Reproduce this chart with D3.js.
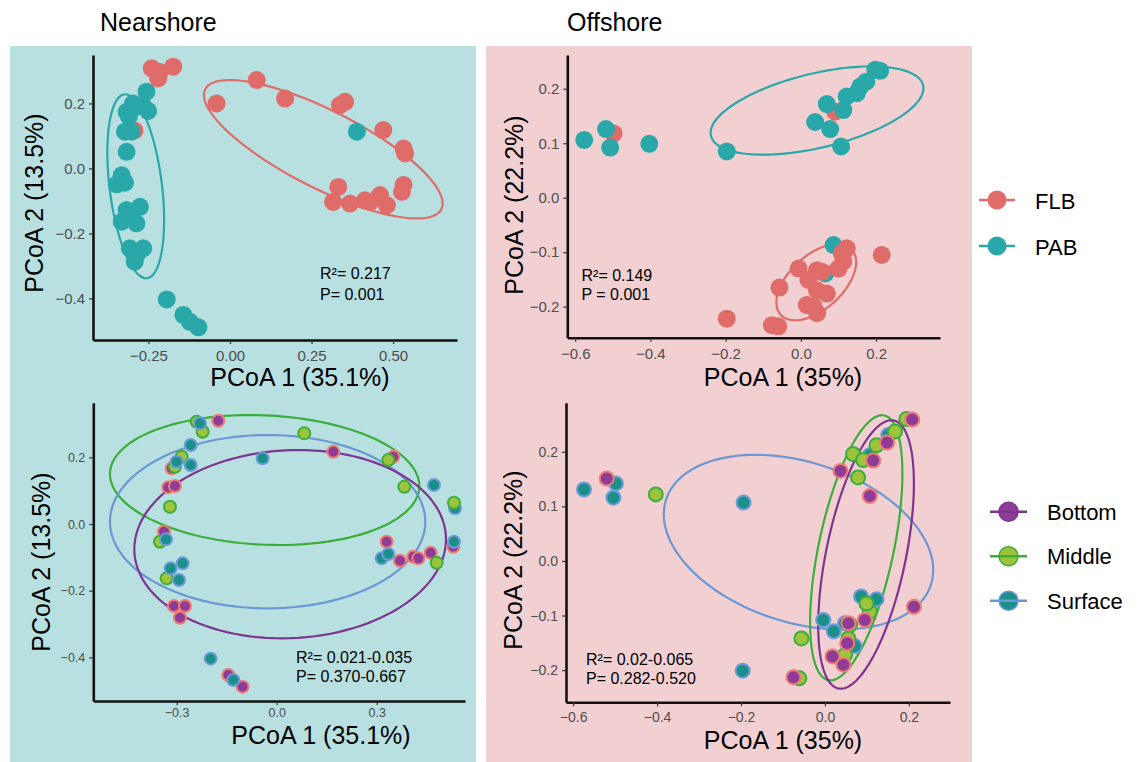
<!DOCTYPE html>
<html>
<head>
<meta charset="utf-8">
<script src="https://cdn.jsdelivr.net/npm/d3@7"></script>
<style>
  html, body { margin: 0; padding: 0; background: #ffffff; }
  svg text { font-family: "Liberation Sans", Arial, Helvetica, sans-serif; }
</style>
</head>
<body>
<svg id="chart" width="1139" height="762"></svg>
<script>
// ---------------- DATA ----------------
const regions = ["Nearshore", "Offshore"];
const fractions = ["FLB", "PAB"];
const depths = ["Bottom", "Middle", "Surface"];

// Nearshore, by fraction (top-left)
const nsFLB_x = [-0.24,-0.215,-0.174,-0.22,-0.293,-0.041,0.082,0.169,0.337,0.353,0.47,0.532,0.537,0.332,0.532,0.527,0.316,0.368,0.414,0.429,0.46,0.481];
const nsFLB_y = [0.308,0.297,0.313,0.277,0.117,0.2,0.272,0.215,0.195,0.205,0.118,0.061,0.046,-0.057,-0.051,-0.072,-0.103,-0.108,-0.098,-0.103,-0.082,-0.113];
const nsPAB_x = [-0.256,-0.297,-0.287,-0.317,-0.31,-0.251,-0.265,-0.322,-0.302,-0.317,-0.332,-0.322,-0.347,-0.317,-0.276,-0.307,-0.332,-0.287,-0.307,-0.266,-0.287,-0.292,-0.194,-0.143,-0.123,-0.097,0.389];
const nsPAB_y = [0.236,0.2,0.19,0.174,0.16,0.177,0.19,0.113,0.113,0.051,-0.021,-0.044,-0.049,-0.128,-0.118,-0.149,-0.164,-0.169,-0.246,-0.246,-0.267,-0.287,-0.403,-0.451,-0.472,-0.489,0.113];

// Offshore, by fraction (top-right)
const osPABlow_x = [0.087,0.065];
const osPABlow_y = [-0.087,-0.139];
const osFLB_x = [-0.498,0.091,0.122,0.109,0.113,0.1,0.215,-0.006,0.043,0.056,0.02,0.043,0.069,-0.057,0.016,0.034,0.043,-0.197,-0.077,-0.06];
const osFLB_y = [0.118,0.158,-0.093,-0.102,-0.117,-0.13,-0.105,-0.13,-0.133,-0.136,-0.151,-0.17,-0.176,-0.165,-0.197,-0.2,-0.212,-0.222,-0.234,-0.236];
const osPAB_x = [-0.576,-0.518,-0.507,-0.403,-0.197,0.069,0.038,0.078,0.107,0.113,0.122,0.149,0.158,0.174,0.198,0.211];
const osPAB_y = [0.106,0.126,0.092,0.099,0.085,0.172,0.139,0.126,0.094,0.161,0.186,0.192,0.204,0.213,0.235,0.233];

// Nearshore, by depth (bottom-left)
const nsBot_x = [-0.175,0.17,0.35,-0.315,-0.325,-0.305,-0.338,0.33,0.37,0.41,0.425,0.462,0.53,-0.308,-0.275,-0.29,-0.145,-0.102];
const nsBot_y = [0.31,0.217,0.202,0.167,0.11,0.114,-0.023,-0.053,-0.11,-0.098,-0.103,-0.086,-0.068,-0.246,-0.246,-0.281,-0.453,-0.488];
const nsMid_x = [-0.24,-0.222,0.083,-0.285,-0.305,0.335,0.383,-0.32,-0.35,-0.33,0.48];
const nsMid_y = [0.307,0.277,0.272,0.202,0.172,0.192,0.112,0.052,-0.053,-0.163,-0.116];
const nsSurf_x = [-0.23,-0.258,-0.3,-0.258,-0.042,0.472,0.535,0.532,-0.332,-0.318,-0.282,-0.293,0.315,0.335,-0.198,-0.13];
const nsSurf_y = [0.302,0.237,0.187,0.177,0.197,0.117,0.047,-0.053,-0.046,-0.133,-0.118,-0.168,-0.103,-0.09,-0.404,-0.468];
const nsMidTop_x = [0.532];
const nsMidTop_y = [0.064];

// Offshore, by depth (bottom-right)
const osSurf_x = [-0.574,-0.498,-0.504,-0.194,-0.196,-0.004,0.021,0.048,0.086,0.123,0.071,0.107,0.151];
const osSurf_y = [0.131,0.142,0.116,0.107,-0.201,-0.108,-0.129,-0.114,-0.065,-0.07,-0.156,0.194,0.231];
const osMid_x = [-0.403,-0.056,-0.061,0.067,0.091,0.123,0.167,0.194,0.079,0.107,0.099,0.056,0.048,0.06];
const osMid_y = [0.122,-0.142,-0.215,0.196,0.185,0.212,0.237,0.26,0.153,-0.093,-0.078,-0.142,-0.172,-0.117];
const osBot_x = [-0.52,0.037,0.107,0.115,0.148,0.208,0.212,0.056,0.095,0.053,0.018,0.044,-0.075];
const osBot_y = [0.151,0.165,0.119,0.184,0.217,0.259,-0.084,-0.114,-0.108,-0.151,-0.175,-0.19,-0.213];

// Ellipses: [centre x, centre y, half-width, half-height, y-offset at rightmost point]
const nsFLB_ell = [0.286, 0.059, 0.366, 0.213, -0.167];
const nsPAB_ell = [-0.289, -0.055, 0.087, 0.283, -0.104];
const osPAB_ell = [0.043, 0.160, 0.283, 0.081, 0.041];
const osFLB_ell = [0.041, -0.155, 0.106, 0.070, 0.037];
const nsMid_ell = [-0.036, 0.132, 0.464, 0.195, -0.018];
const nsSurf_ell = [-0.027, 0.007, 0.473, 0.26, 0.0];
const nsBot_ell = [0.0405, -0.0605, 0.4675, 0.2825, 0.015];
const osSurf_ell = [-0.063, 0.0345, 0.321, 0.16, -0.051];
const osMid_ell = [0.0746, 0.0241, 0.110, 0.243, 0.136];
const osBot_ell = [0.098, 0.0119, 0.114, 0.246, 0.13];

// Axis domains and ticks
const tl_xdom = [-0.42, 0.696], tl_ydom = [-0.528, 0.349];
const tr_xdom = [-0.621, 0.370], tr_ydom = [-0.257, 0.262];
const bl_xdom = [-0.55, 0.565], bl_ydom = [-0.531, 0.364];
const br_xdom = [-0.617, 0.298], br_ydom = [-0.259, 0.29];
const tl_xticks = [-0.25, 0, 0.25, 0.5], tl_yticks = [-0.4, -0.2, 0, 0.2];
const tr_xticks = [-0.6, -0.4, -0.2, 0, 0.2], tr_yticks = [-0.2, -0.1, 0, 0.1, 0.2];
const bl_xticks = [-0.3, 0, 0.3], bl_yticks = [-0.4, -0.2, 0, 0.2];
const br_xticks = [-0.6, -0.4, -0.2, 0, 0.2], br_yticks = [-0.2, -0.1, 0, 0.1, 0.2];

const xTitles = ["PCoA 1 (35.1%)", "PCoA 1 (35%)"];
const yTitles = ["PCoA 2 (13.5%)", "PCoA 2 (22.2%)"];
const stats = [
  ["R\u00B2= 0.217", "P= 0.001"],
  ["R\u00B2= 0.149", "P = 0.001"],
  ["R\u00B2= 0.021-0.035", "P= 0.370-0.667"],
  ["R\u00B2= 0.02-0.065", "P= 0.282-0.520"]
];

// ---------------- STYLE ----------------
const fracColor = { FLB: "#e06c6a", PAB: "#2aa8a9" };
const depthFill = { Bottom: "#8e3c96", Middle: "#9dc43c", Surface: "#1b8f8a" };
const depthStroke = { Bottom: "#ef7b73", Middle: "#3cae3f", Surface: "#6f9bd8" };
const depthLine = { Bottom: "#7e3590", Middle: "#3aae3a", Surface: "#6b97d4" };
const bgColors = ["#b9e0e1", "#f2d0d2"];

const svg = d3.select("#chart");

// backgrounds
svg.append("rect").attr("x", 10).attr("y", 46).attr("width", 466).attr("height", 716).attr("fill", bgColors[0]);
svg.append("rect").attr("x", 486).attr("y", 46).attr("width", 486).attr("height", 716).attr("fill", bgColors[1]);

// region titles
svg.append("text").attr("x", 100).attr("y", 31).attr("font-size", 25).attr("fill", "#000").text(regions[0]);
svg.append("text").attr("x", 567).attr("y", 31).attr("font-size", 25).attr("fill", "#000").text(regions[1]);

function ellipsePoints(e) {
  const [cx, cy, W, H, k] = e;
  const m = Math.sqrt(Math.max(H * H - k * k, 0));
  return d3.range(0, 361, 3).map(a => {
    const t = a * Math.PI / 180;
    return [cx + W * Math.cos(t), cy + k * Math.cos(t) + m * Math.sin(t)];
  });
}

function panel(cfg) {
  const x = d3.scaleLinear().domain(cfg.xdom).range([cfg.left, cfg.right]);
  const y = d3.scaleLinear().domain(cfg.ydom).range([cfg.bottom, cfg.top]);
  const g = svg.append("g");

  // ellipses
  const line = d3.line().x(d => x(d[0])).y(d => y(d[1])).curve(d3.curveLinearClosed);
  cfg.ellipses.forEach(el => {
    g.append("path").attr("d", line(ellipsePoints(el.p)))
      .attr("fill", "none").attr("stroke", el.color).attr("stroke-width", 2.2);
  });

  // points
  cfg.groups.forEach(gr => {
    const pts = gr.xs.map((v, i) => [v, gr.ys[i]]);
    g.append("g").selectAll("circle").data(pts).join("circle")
      .attr("cx", d => x(d[0])).attr("cy", d => y(d[1]))
      .attr("r", gr.r).attr("fill", gr.fill)
      .attr("stroke", gr.stroke || "none").attr("stroke-width", gr.stroke ? 2 : 0);
  });

  // axes
  const xa = g.append("g").attr("transform", `translate(0,${cfg.bottom})`)
    .call(d3.axisBottom(x).tickValues(cfg.xticks).tickFormat(d3.format(cfg.xfmt))
      .tickSize(4).tickSizeOuter(0).tickPadding(cfg.xpad));
  const ya = g.append("g").attr("transform", `translate(${cfg.left},0)`)
    .call(d3.axisLeft(y).tickValues(cfg.yticks).tickFormat(d3.format(cfg.yfmt))
      .tickSize(4).tickSizeOuter(0).tickPadding(4));
  [xa, ya].forEach(a => {
    a.select(".domain").attr("stroke", "#111").attr("stroke-width", 2.6);
    a.selectAll(".tick line").attr("stroke", "#333").attr("stroke-width", 1.2);
    a.selectAll(".tick text").attr("fill", "#4d4d4d").attr("font-size", cfg.tickFont)
      .attr("font-family", "Liberation Sans, Arial, sans-serif");
  });

  // axis titles
  svg.append("text").attr("x", cfg.xtx).attr("y", cfg.xty).attr("text-anchor", "middle")
    .attr("font-size", 25).attr("fill", "#000").text(cfg.xtitle);
  svg.append("text").attr("transform", `translate(${cfg.ytx},${cfg.yty}) rotate(-90)`)
    .attr("text-anchor", "middle").attr("font-size", 25).attr("fill", "#000").text(cfg.ytitle);

  // stats
  cfg.stats.forEach((s, i) => {
    svg.append("text").attr("x", cfg.sx).attr("y", cfg.sy[i]).attr("font-size", 16)
      .attr("fill", "#000").text(s);
  });
}

panel({
  left: 93, right: 457, top: 55, bottom: 340, xdom: tl_xdom, ydom: tl_ydom,
  xticks: tl_xticks, yticks: tl_yticks, xfmt: ".2f", yfmt: ".1f", xpad: 6, tickFont: 15,
  ellipses: [{ p: nsFLB_ell, color: fracColor.FLB }, { p: nsPAB_ell, color: fracColor.PAB }],
  groups: [
    { xs: nsFLB_x, ys: nsFLB_y, r: 9, fill: fracColor.FLB },
    { xs: nsPAB_x, ys: nsPAB_y, r: 9, fill: fracColor.PAB }
  ],
  xtitle: xTitles[0], ytitle: yTitles[0], xtx: 300, xty: 386, ytx: 43, yty: 203,
  stats: stats[0], sx: 320, sy: [279, 300]
});

panel({
  left: 567.3, right: 940, top: 55, bottom: 337.7, xdom: tr_xdom, ydom: tr_ydom,
  xticks: tr_xticks, yticks: tr_yticks, xfmt: ".1f", yfmt: ".1f", xpad: 6.5, tickFont: 15,
  ellipses: [{ p: osPAB_ell, color: fracColor.PAB }, { p: osFLB_ell, color: fracColor.FLB }],
  groups: [
    { xs: osPABlow_x, ys: osPABlow_y, r: 9, fill: fracColor.PAB },
    { xs: osFLB_x, ys: osFLB_y, r: 9, fill: fracColor.FLB },
    { xs: osPAB_x, ys: osPAB_y, r: 9, fill: fracColor.PAB }
  ],
  xtitle: xTitles[1], ytitle: yTitles[1], xtx: 783, xty: 386, ytx: 522.5, yty: 205,
  stats: stats[1], sx: 581.5, sy: [281, 300]
});

panel({
  left: 93.3, right: 465, top: 402.7, bottom: 701, xdom: bl_xdom, ydom: bl_ydom,
  xticks: bl_xticks, yticks: bl_yticks, xfmt: ".1f", yfmt: ".1f", xpad: 3.5, tickFont: 12.5,
  ellipses: [
    { p: nsMid_ell, color: depthLine.Middle },
    { p: nsSurf_ell, color: depthLine.Surface },
    { p: nsBot_ell, color: depthLine.Bottom }
  ],
  groups: [
    { xs: nsBot_x, ys: nsBot_y, r: 6, fill: depthFill.Bottom, stroke: depthStroke.Bottom },
    { xs: nsMid_x, ys: nsMid_y, r: 6, fill: depthFill.Middle, stroke: depthStroke.Middle },
    { xs: nsSurf_x, ys: nsSurf_y, r: 6, fill: depthFill.Surface, stroke: depthStroke.Surface },
    { xs: nsMidTop_x, ys: nsMidTop_y, r: 6, fill: depthFill.Middle, stroke: depthStroke.Middle }
  ],
  xtitle: xTitles[0], ytitle: yTitles[0], xtx: 321, xty: 744, ytx: 50, yty: 562,
  stats: stats[2], sx: 296, sy: [663, 682]
});

panel({
  left: 566, right: 950, top: 402.7, bottom: 702.3, xdom: br_xdom, ydom: br_ydom,
  xticks: br_xticks, yticks: br_yticks, xfmt: ".1f", yfmt: ".1f", xpad: 5.5, tickFont: 14,
  ellipses: [
    { p: osSurf_ell, color: depthLine.Surface },
    { p: osMid_ell, color: depthLine.Middle },
    { p: osBot_ell, color: depthLine.Bottom }
  ],
  groups: [
    { xs: osSurf_x, ys: osSurf_y, r: 7, fill: depthFill.Surface, stroke: depthStroke.Surface },
    { xs: osMid_x, ys: osMid_y, r: 7, fill: depthFill.Middle, stroke: depthStroke.Middle },
    { xs: osBot_x, ys: osBot_y, r: 7, fill: depthFill.Bottom, stroke: depthStroke.Bottom }
  ],
  xtitle: xTitles[1], ytitle: yTitles[1], xtx: 783, xty: 749, ytx: 521.5, yty: 560,
  stats: stats[3], sx: 586, sy: [665, 684]
});

// legends
const legTop = svg.append("g");
fractions.forEach((f, i) => {
  const cy = 200 + i * 46;
  legTop.append("line").attr("x1", 979).attr("x2", 1015).attr("y1", cy).attr("y2", cy)
    .attr("stroke", fracColor[f]).attr("stroke-width", 2.5);
  legTop.append("circle").attr("cx", 997).attr("cy", cy).attr("r", 9.5).attr("fill", fracColor[f]);
  legTop.append("text").attr("x", 1035).attr("y", cy + 9).attr("font-size", 22).attr("fill", "#000").text(f);
});
const legBot = svg.append("g");
depths.forEach((d, i) => {
  const cy = 511.7 + i * 44.5;
  legBot.append("circle").attr("cx", 1008.5).attr("cy", cy).attr("r", 9.5)
    .attr("fill", depthFill[d]).attr("stroke", depthLine[d]).attr("stroke-width", 1.5);
  legBot.append("line").attr("x1", 990).attr("x2", 1027).attr("y1", cy).attr("y2", cy)
    .attr("stroke", depthLine[d]).attr("stroke-width", 2.5);
  legBot.append("text").attr("x", 1047).attr("y", cy + 8).attr("font-size", 22).attr("fill", "#000").text(d);
});
</script>
</body>
</html>
